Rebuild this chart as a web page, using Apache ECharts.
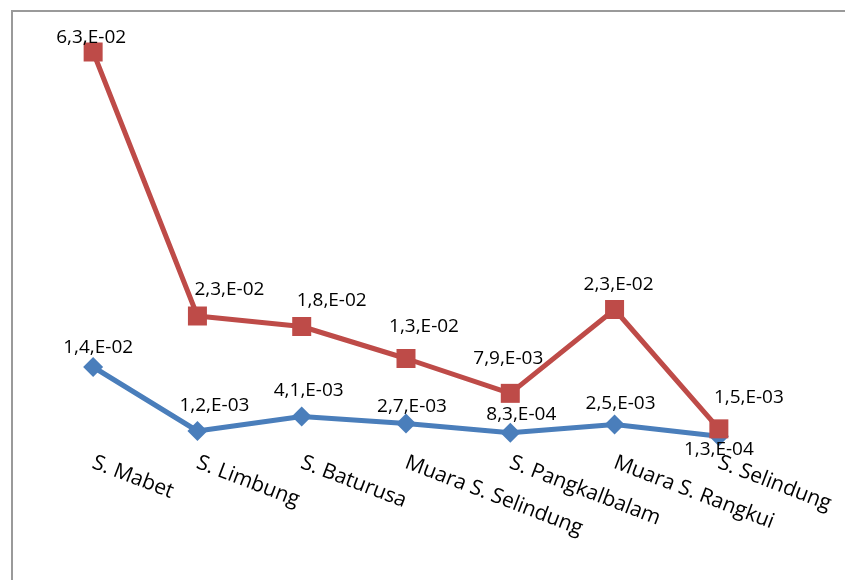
<!DOCTYPE html>
<html><head><meta charset="utf-8">
<script src="https://cdn.jsdelivr.net/npm/echarts@6/dist/echarts.min.js"></script>
<style>html,body{margin:0;padding:0;background:#fff}#c{width:845px;height:580px}</style>
</head><body><div id="c"></div>
<script>
var categories = ["S. Mabet","S. Limbung","S. Baturusa","Muara S. Selindung","S. Pangkalbalam","Muara S. Rangkui","S. Selindung"];
var blueValues = [1.4e-2, 1.2e-3, 4.1e-3, 2.7e-3, 8.3e-4, 2.5e-3, 1.3e-4];
var redValues  = [6.3e-2, 2.3e-2, 1.8e-2, 1.3e-2, 7.9e-3, 2.3e-2, 1.5e-3];

function sci(v){
  var e = Math.floor(Math.log10(v));
  var m = v / Math.pow(10, e);
  m = Math.round(m*10)/10;
  if (m >= 10) { m = m/10; e += 1; }
  var ms = m.toFixed(1).replace('.', ',');
  var es = (e < 0 ? '-' : '+') + (Math.abs(e) < 10 ? '0' : '') + Math.abs(e);
  return ms + ',E' + es;
}
// label offsets [dx, dy] per point (styling only)
var blueOff = [[5,0],[17,-6],[7,-6],[6,3],[11,1],[6,-1],[0,-10]];
var redOff  = [[-2,5],[32,-7],[30,-7],[18,-13],[-2,-16],[4,-6],[30,-12]];

function mk(vals, offs, belowLast){
  return vals.map(function(v,i){
    var o = {value: v, label: {offset: offs[i]}};
    if (belowLast && i === vals.length-1) { o.label.position = 'bottom'; o.label.distance = 4; }
    return o;
  });
}
var chart = echarts.init(document.getElementById('c'));
var lblFont = {fontFamily:'Open Sans', fontSize:19, color:'#000'};
chart.setOption({
  animation:false,
  graphic:[{type:'rect', shape:{x:12,y:11,width:900,height:700}, style:{fill:'none', stroke:'#9a9a9a', lineWidth:2}, silent:true}],
  grid:{left:41, right:74, top:37, height:400},
  xAxis:{type:'category', data:categories, boundaryGap:true,
    axisLine:{show:false}, axisTick:{show:false},
    axisLabel:{rotate:-21, margin:25, fontFamily:'Open Sans', fontSize:21, color:'#000', interval:0}},
  yAxis:{type:'value', min:0, max:0.08, show:false, splitLine:{show:false}},
  series:[
    {name:'blue', type:'line', stack:'total', data:mk(blueValues, blueOff, true),
     symbol:'diamond', symbolSize:20, lineStyle:{color:'#4A7EBB', width:5}, itemStyle:{color:'#4A7EBB'},
     label:Object.assign({show:true, position:'top', distance:0, formatter:function(p){return sci(p.value);}}, lblFont), z:2},
    {name:'red', type:'line', stack:'total', data:mk(redValues, redOff, false),
     symbol:'rect', symbolSize:19, lineStyle:{color:'#BE4B48', width:5}, itemStyle:{color:'#BE4B48'},
     label:Object.assign({show:true, position:'top', distance:0, formatter:function(p){return sci(p.value);}}, lblFont), z:3}
  ]
});
</script></body></html>
